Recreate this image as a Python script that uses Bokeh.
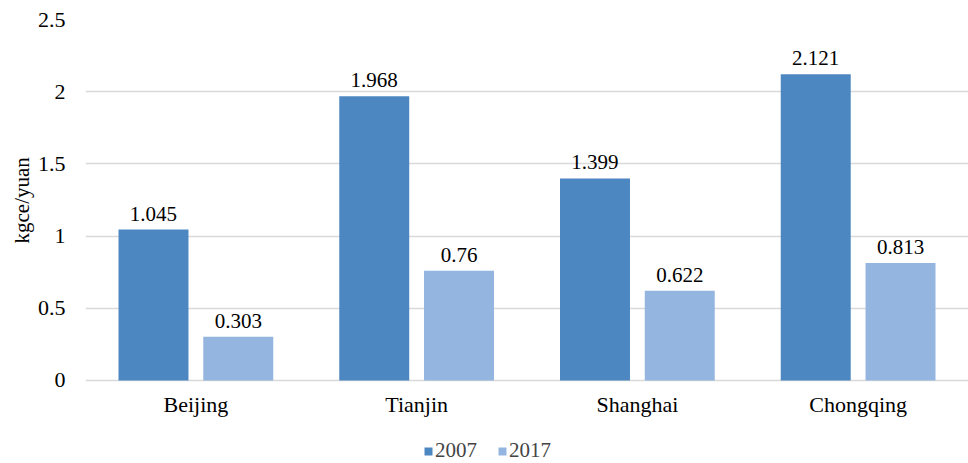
from bokeh.plotting import figure
from bokeh.models import ColumnDataSource, FactorRange, Legend, LegendItem, Range1d, FixedTicker, Title
from bokeh.transform import dodge
from bokeh.core.properties import value
from bokeh.embed import file_html
from bokeh.resources import INLINE

cities = ["Beijing", "Tianjin", "Shanghai", "Chongqing"]
y2007 = [1.045, 1.968, 1.399, 2.121]
y2017 = [0.303, 0.76, 0.622, 0.813]
lab2007 = ["1.045", "1.968", "1.399", "2.121"]
lab2017 = ["0.303", "0.76", "0.622", "0.813"]
yticks = [0, 0.5, 1, 1.5, 2, 2.5]
series = ["2007", "2017"]

FONT = "Times"
C2007 = "#4d87c2"
C2017 = "#94b5df"

src = ColumnDataSource(dict(city=cities, y2007=y2007, y2017=y2017,
                            lab2007=lab2007, lab2017=lab2017))

# frame runs to the bottom edge; value 0 sits 83 px above it (room for labels + legend)
p = figure(width=968, height=463, x_range=FactorRange(*cities, range_padding=0),
           y_range=Range1d(-0.5748, 2.5), output_backend="svg", toolbar_location=None,
           min_border_left=85, min_border_right=0, min_border_top=19, min_border_bottom=0)
p.outline_line_color = None
p.background_fill_color = "white"
p.border_fill_color = "white"

bw = 0.317
off = 0.192
r1 = p.vbar(x=dodge("city", -off, range=p.x_range), top="y2007", bottom=0, width=bw, source=src,
            fill_color=C2007, line_color=None)
r2 = p.vbar(x=dodge("city", off, range=p.x_range), top="y2017", bottom=0, width=bw, source=src,
            fill_color=C2017, line_color=None)

p.text(x=dodge("city", -off, range=p.x_range), y="y2007", text="lab2007", source=src,
       text_align="center", text_baseline="alphabetic", y_offset=-16,
       text_font=value(FONT), text_font_size="21px", text_color="#000000")
p.text(x=dodge("city", off, range=p.x_range), y="y2017", text="lab2017", source=src,
       text_align="center", text_baseline="alphabetic", y_offset=-16,
       text_font=value(FONT), text_font_size="21px", text_color="#000000")

p.xgrid.grid_line_color = None
p.ygrid.grid_line_color = "#d9d9d9"
p.ygrid.grid_line_width = 1.5
p.yaxis.ticker = FixedTicker(ticks=yticks)
p.yaxis.major_label_overrides = {0: "0", 0.5: "0.5", 1: "1", 1.5: "1.5", 2: "2", 2.5: "2.5"}

for ax in (p.xaxis[0], p.yaxis[0]):
    ax.axis_line_color = None
    ax.major_tick_line_color = None
    ax.minor_tick_line_color = None
    ax.major_tick_out = 0
    ax.major_tick_in = 0
    ax.major_label_text_font = FONT
    ax.major_label_text_font_size = "22px"
    ax.major_label_text_color = "#000000"

p.xaxis.fixed_location = 0
p.xaxis.major_label_standoff = 12
p.yaxis.major_label_standoff = 20

ytitle = Title(text="kgce/yuan", align="left", offset=220, standoff=2,
               text_font=FONT, text_font_size="21px", text_font_style="normal",
               text_color="#000000")
p.add_layout(ytitle, "left")

legend = Legend(items=[LegendItem(label=series[0], renderers=[r1]),
                       LegendItem(label=series[1], renderers=[r2])],
                location=(338, 0), orientation="horizontal",
                glyph_width=10, glyph_height=10, label_standoff=2, spacing=20,
                padding=0, margin=0, border_line_color=None, background_fill_alpha=0,
                label_text_font=FONT, label_text_font_size="21px", label_height=20)
p.add_layout(legend, "center")

open("out.html", "w").write(file_html(p, INLINE))
